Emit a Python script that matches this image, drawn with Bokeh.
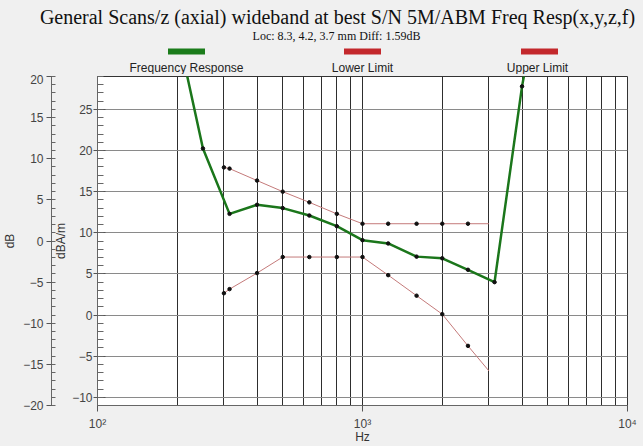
from bokeh.plotting import figure
from bokeh.models import Range1d, LinearAxis, SingleIntervalTicker, LogTicker
from bokeh.layouts import column
from bokeh.embed import file_html
from bokeh.resources import INLINE
from bokeh.core.properties import value

# ---- texts ----
title_text = "General Scans/z (axial) wideband at best S/N 5M/ABM Freq Resp(x,y,z,f)"
subtitle_text = "Loc: 8.3, 4.2, 3.7 mm Diff: 1.59dB"
legend_labels = ["Frequency Response", "Lower Limit", "Upper Limit"]
legend_colors = ["#1b7c1b", "#c3282c", "#c3282c"]
x_tick_labels = {100: "10\u00b2", 1000: "10\u00b3", 10000: "10\u2074"}

# ---- data (dBA/m) ----
resp_hz = [200, 250, 315, 400, 500, 630, 800, 1000, 1250, 1600, 2000, 2500, 3150, 4000, 5000]
resp_dbam = [34.6, 20.25, 12.3, 13.4, 13.0, 12.1, 10.8, 9.1, 8.7, 7.1, 6.9, 5.5, 4.0, 27.8, 45.0]

limit_hz = [300, 315, 400, 500, 630, 800, 1000, 1250, 1600, 2000, 2500, 3000]
upper_dbam = [17.95, 17.8, 16.35, 15.0, 13.7, 12.3, 11.1, 11.1, 11.1, 11.1, 11.1, 11.1]
lower_dbam = [2.65, 3.15, 5.1, 7.05, 7.05, 7.05, 7.05, 4.85, 2.35, 0.1, -3.75, -6.8]

BG = "#f0f0f0"
SANS = "Liberation Sans"
SERIF = "Liberation Serif"

# ---- header figure (title, subtitle, legend) ----
hdr = figure(width=643, height=74, x_range=Range1d(0, 643), y_range=Range1d(0, 74),
             output_backend="svg", toolbar_location=None,
             x_axis_location=None, y_axis_location=None, min_border=0,
             background_fill_color=BG, border_fill_color=BG, outline_line_color=None)
hdr.frame_align = False
hdr.grid.visible = False
hdr.text(x=[337], y=[58], text=[title_text], text_font=value(SERIF), text_font_size="20px",
         text_align="center", text_baseline="middle", text_color="#111111")
hdr.text(x=[336], y=[39], text=[subtitle_text], text_font=value(SERIF), text_font_size="12px",
         text_align="center", text_baseline="middle", text_color="#111111")
hdr.rect(x=[186, 362, 539], y=[23, 23, 23], width=37, height=6,
         fill_color=legend_colors, line_color=None)
hdr.text(x=[186, 362, 537], y=[7, 7, 7], text=legend_labels, text_font=value(SANS),
         text_font_size="12px", text_align="center", text_baseline="middle", text_color="#222222")

# ---- main plot ----
p = figure(width=643, height=372, x_axis_type="log", x_range=Range1d(100, 10000),
           y_range=Range1d(-11, 29), output_backend="svg", toolbar_location=None,
           min_border_left=97, min_border_right=16, min_border_top=2, min_border_bottom=39,
           background_fill_color="white", border_fill_color=BG,
           outline_line_color="#333333", outline_line_width=1)
p.frame_align = False

# inner (dBA/m) axis
ya = p.yaxis[0]
ya.ticker = SingleIntervalTicker(interval=5, num_minor_ticks=5)
ya.axis_label = "dBA/m"

# outer (dB) axis
p.extra_y_ranges = {"db": Range1d(-20, 20)}
ya2 = LinearAxis(y_range_name="db", ticker=SingleIntervalTicker(interval=5, num_minor_ticks=5),
                 axis_label="dB")
p.add_layout(ya2, "left")

for ax in (ya, ya2):
    ax.axis_line_color = "#666666"
    ax.major_tick_line_color = "#555555"
    ax.minor_tick_line_color = "#666666"
    ax.major_label_text_font = SANS
    ax.major_label_text_font_size = "12px"
    ax.major_label_text_color = "#444444"
    ax.axis_label_text_font = SANS
    ax.axis_label_text_font_size = "12px"
    ax.axis_label_text_font_style = "normal"
    ax.axis_label_text_color = "#333333"

ya.major_tick_out = 4
ya.major_tick_in = 8
ya.minor_tick_out = 0
ya.minor_tick_in = 6
ya.major_label_standoff = 1
ya.axis_label_standoff = 1

ya2.major_tick_out = 5
ya2.major_tick_in = 3
ya2.minor_tick_out = 0
ya2.minor_tick_in = 4
ya2.major_label_standoff = 3
ya2.axis_label_standoff = 3

xa = p.xaxis[0]
xa.ticker = LogTicker(num_minor_ticks=10)
xa.major_label_overrides = x_tick_labels
xa.axis_label = "Hz"
xa.axis_line_color = "#666666"
xa.major_tick_line_color = "#555555"
xa.major_tick_out = 6
xa.major_tick_in = 0
xa.minor_tick_out = 0
xa.minor_tick_in = 0
xa.major_label_standoff = 5
xa.axis_label_standoff = -4
xa.major_label_text_font = SANS
xa.major_label_text_font_size = "12px"
xa.major_label_text_color = "#444444"
xa.axis_label_text_font = SANS
xa.axis_label_text_font_size = "12px"
xa.axis_label_text_font_style = "normal"
xa.axis_label_text_color = "#333333"

p.xgrid.grid_line_color = "#2e2e2e"
p.xgrid.minor_grid_line_color = "#2e2e2e"
p.ygrid.grid_line_color = "#8a8a8a"

# data
p.line(limit_hz, upper_dbam, line_color="#c47a7a", line_width=1)
p.line(limit_hz, lower_dbam, line_color="#c47a7a", line_width=1)
p.line(resp_hz, resp_dbam, line_color="#1b761b", line_width=2.5)
p.scatter(limit_hz[:-1], upper_dbam[:-1], size=3.5, color="#111111")
p.scatter(limit_hz[:-1], lower_dbam[:-1], size=3.5, color="#111111")
p.scatter(resp_hz, resp_dbam, size=3.5, color="#111111")

layout = column(hdr, p, spacing=0)

html = file_html(layout, INLINE)
html = html.replace("</head>",
                    "<style>html,body{background:#f0f0f0;overflow:hidden;}</style></head>", 1)
open("out.html", "w").write(html)
